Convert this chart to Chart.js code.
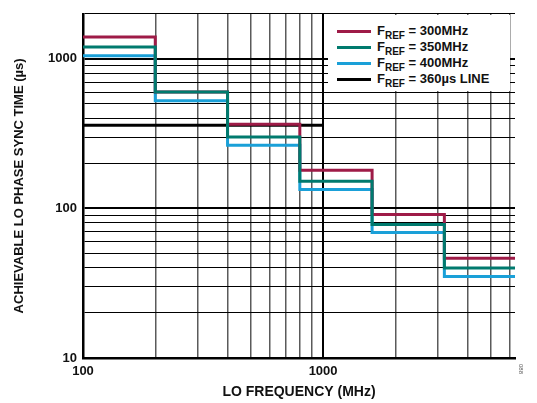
<!DOCTYPE html>
<html>
<head>
<meta charset="utf-8">
<script src="https://cdn.jsdelivr.net/npm/chart.js@4/dist/chart.umd.min.js"></script>
<style>
  html, body { margin: 0; padding: 0; background: #fff; }
  #wrap { position: relative; width: 537px; height: 403px; }
  #legend {
    position: absolute; background: #fff;
    font-family: "Liberation Sans", Arial, sans-serif; font-weight: bold;
    font-size: 13px; color: #111;
  }
  .item { position: absolute; left: 0; height: 16px; white-space: nowrap; }
  .swatch { position: absolute; left: 9px; top: 7px; width: 34px; height: 3px; }
  .lbl { position: absolute; left: 49px; top: 0; line-height: 16px; }
  .lbl sub { font-size: 10px; vertical-align: -4px; line-height: 0; }
  #fig { position: absolute; left: 524px; top: 364px; font: 6px "Liberation Sans", Arial, sans-serif;
         color: #666; transform: rotate(90deg); transform-origin: left top; }
</style>
</head>
<body>
<div id="wrap">
  <canvas id="chart" width="537" height="403"></canvas>
  <div id="legend"></div>
  <div id="fig">088</div>
</div>
<script>
// step edges along LO frequency (MHz); each value holds until the next edge
const freqEdges = [100, 200, 400, 800, 1600, 3200, 6300];
const fref300 = [1400, 600, 365, 180, 91, 46.5, 46.5];
const fref350 = [1200, 600, 300, 152, 78, 40, 40];
const fref400 = [1050, 525, 264, 134, 69, 35, 35];
const line360X = [100, 1000];
const line360Y = [360, 360];

const xTicks = [100, 200, 300, 400, 500, 600, 700, 800, 900, 1000, 2000, 3000, 4000, 5000, 6000];
const yTicks = [10, 20, 30, 40, 50, 60, 70, 80, 90, 100, 200, 300, 400, 500, 600, 700, 800, 900, 1000, 2000];
const labeledTicks = [10, 100, 1000];

const labels = ["300MHz", "350MHz", "400MHz", "360µs LINE"];
const colors = ["#9e1b47", "#007a6e", "#1aa0d8", "#000000"];

function pts(xs, ys) {
  return xs.map((x, i) => ({ x, y: ys[i] }));
}

function stepSet(i, data, order) {
  return {
    label: labels[i],
    data,
    borderColor: colors[i],
    backgroundColor: colors[i],
    borderWidth: 3,
    pointRadius: 0,
    stepped: true,
    fill: false,
    order
  };
}

const isMajor = v => labeledTicks.includes(v);
const font = { family: "'Liberation Sans', Arial, sans-serif", weight: "bold" };

const htmlLegend = {
  id: "htmlLegend",
  afterRender(chart) {
    const box = document.getElementById("legend");
    if (box.dataset.done) return;
    box.dataset.done = "1";
    const a = chart.chartArea;
    box.style.left = (a.left + 245) + "px";
    box.style.top = (a.top + 1) + "px";
    box.style.width = (a.right - a.left - 250) + "px";
    box.style.height = "76px";
    labels.forEach((t, i) => {
      const it = document.createElement("div");
      it.className = "item";
      it.style.top = (8 + i * 16) + "px";
      it.innerHTML = '<div class="swatch" style="background:' + colors[i] + '"></div>' +
        '<div class="lbl">F<sub>REF</sub> = ' + t + '</div>';
      box.appendChild(it);
    });
  }
};

new Chart(document.getElementById("chart"), {
  type: "line",
  data: {
    datasets: [
      stepSet(0, pts(freqEdges, fref300), 2),
      stepSet(1, pts(freqEdges, fref350), 1),
      stepSet(2, pts(freqEdges, fref400), 3),
      Object.assign(stepSet(3, pts(line360X, line360Y), 4), { stepped: false })
    ]
  },
  options: {
    responsive: false,
    animation: false,
    events: [],
    layout: { padding: { left: 0, right: 22, top: 12, bottom: 0 } },
    plugins: { legend: { display: false }, tooltip: { enabled: false } },
    scales: {
      x: {
        type: "logarithmic",
        min: 100,
        max: 6300,
        afterBuildTicks: s => { s.ticks = xTicks.map(v => ({ value: v })); },
        afterFit: s => { s.height = 45; },
        ticks: {
          autoSkip: false, maxRotation: 0, color: "#111", padding: 6,
          font: Object.assign({ size: 13 }, font),
          callback: v => isMajor(v) ? String(v) : ""
        },
        grid: {
          drawTicks: false,
          color: c => isMajor(c.tick.value) ? "#000" : "#5a5a5a",
          lineWidth: c => isMajor(c.tick.value) ? 2 : 1.5
        },
        border: { color: "#000", width: 2.5 },
        title: {
          display: true, text: "LO FREQUENCY (MHz)", color: "#111",
          font: Object.assign({ size: 14 }, font),
          padding: { top: 0, bottom: 2 }
        }
      },
      y: {
        type: "logarithmic",
        min: 10,
        max: 2000,
        afterBuildTicks: s => { s.ticks = yTicks.map(v => ({ value: v })); },
        afterFit: s => { s.width = 83; },
        ticks: {
          autoSkip: false, color: "#111", padding: 6,
          font: Object.assign({ size: 13 }, font),
          callback: v => isMajor(v) ? String(v) : ""
        },
        grid: {
          drawTicks: false,
          color: c => "#000",
          lineWidth: c => isMajor(c.tick.value) ? 2 : 1
        },
        border: { color: "#000", width: 2.5 },
        title: {
          display: true, text: "ACHIEVABLE LO PHASE SYNC TIME (µs)", color: "#111",
          font: Object.assign({ size: 13 }, font),
          padding: { top: 12, bottom: 0 }
        }
      }
    }
  },
  plugins: [htmlLegend]
});
</script>
</body>
</html>
